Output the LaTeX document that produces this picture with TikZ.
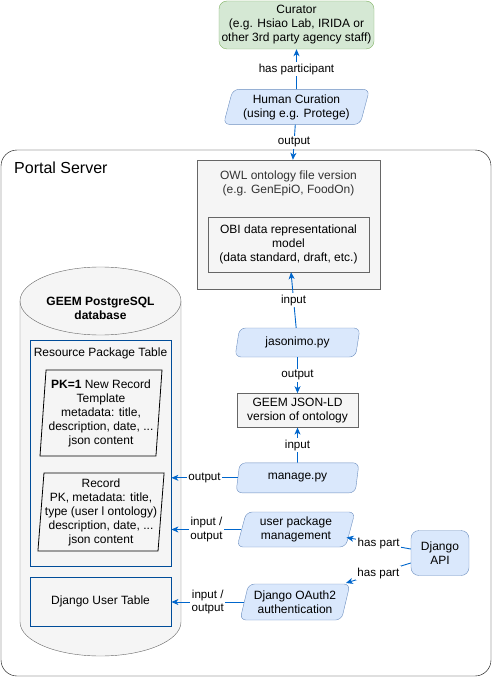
\documentclass[tikz,border=0pt]{standalone}
\usepackage{fontspec}
\setmainfont{Liberation Sans}
\usetikzlibrary{shapes.geometric, arrows.meta, positioning, calc}

\definecolor{curfill}{HTML}{D5E8D4}
\definecolor{curline}{HTML}{82B366}
\definecolor{procfill}{HTML}{DAE8FC}
\definecolor{procline}{HTML}{6C8EBF}
\definecolor{greyfill}{HTML}{F5F5F5}
\definecolor{greyline}{HTML}{666666}
\definecolor{tableline}{HTML}{004C99}
\definecolor{linkblue}{HTML}{0066CC}

\begin{document}
\begin{tikzpicture}[
        x=1pt, y=-1pt,
        every node/.style={font=\fontsize{12}{14}\selectfont, align=center, inner sep=1pt},
        actor/.style={rectangle, draw=curline, fill=curfill, rounded corners=8pt, minimum width=155pt, minimum height=48pt},
        proc/.style={trapezium, trapezium left angle=71, trapezium right angle=109, trapezium stretches body=true, draw=procline, fill=procfill, rounded corners=6pt},
        greybox/.style={rectangle, draw=greyline, fill=greyfill},
        tablebox/.style={rectangle, draw=tableline, thick},
        rec/.style={trapezium, trapezium left angle=85, trapezium right angle=95, trapezium stretches body=true, draw=black, line width=0.8pt, fill=greyfill},
        flow/.style={-{Stealth[length=7pt, width=6pt, inset=2pt]}, linkblue, line width=0.9pt},
        lbl/.style={font=\fontsize{11.6}{13.5}\selectfont, fill=white, text=black, inner sep=1.5pt}
    ]
        \useasboundingbox (0,0) rectangle (492,679);

        % Portal server frame
        \draw[rounded corners=16pt] (1,150) rectangle (491,676);
        \node[font=\fontsize{16}{18}\selectfont, anchor=west] (portal) at (13,168) {Portal Server};

        % Curation chain
        \node[actor] (curator) at (296.5,25) {Curator\\(e.g. Hsiao Lab, IRIDA or\\other 3rd party agency staff)};
        \node[proc, minimum width=146pt, minimum height=35pt, below=40pt of curator] (human) {Human Curation\\(using e.g. Protege)};

        % Ontology versions
        \node[greybox, minimum width=183pt, minimum height=129pt] (owl) at (288.5,224.5) {};
        \node[below=10pt of owl.north, text=black!80] (owltxt) {OWL ontology file version\\(e.g. GenEpiO, FoodOn)};
        \node[greybox, minimum width=161pt, minimum height=55pt] (obi) at (288.5,244.5) {OBI data representational\\model\\(data standard, draft, etc.)};

        \node[proc, minimum width=125pt, minimum height=29pt] (jasonimo) at (297.5,342.5) {jasonimo.py};
        \node[greybox, minimum width=121pt, minimum height=34pt, below=36pt of jasonimo] (jsonld) {GEEM JSON-LD\\version of ontology};
        \node[proc, minimum width=123pt, minimum height=30pt, below=35pt of jsonld] (manage) {manage.py};
        \node[proc, minimum width=118pt, minimum height=35pt] (userpkg) at (296,529.5) {user package\\management};
        \node[proc, minimum width=110pt, minimum height=36pt] (oauth) at (295,602) {Django OAuth2\\authentication};
        \node[rectangle, draw=procline, fill=procfill, rounded corners=8pt, minimum width=58pt, minimum height=45pt] (djapi) at (440,553) {Django\\API};

        % Database cylinder
        \draw[greyline, fill=greyfill] (20,301) -- (20,622) arc[start angle=180, end angle=360, x radius=80.5, y radius=-34] -- (181,301) arc[start angle=0, end angle=180, x radius=80.5, y radius=-34] -- cycle;
        \draw[greyline] (20,301) arc[start angle=180, end angle=360, x radius=80.5, y radius=-34];
        \node[font=\fontsize{12}{14}\selectfont\bfseries] (dbname) at (100.5,308) {GEEM PostgreSQL\\database};

        \node[tablebox, minimum width=141pt, minimum height=226pt] (restable) at (100.5,453) {};
        \node[below=7pt of restable.north] (restxt) {Resource Package Table};
        \node[rec, minimum width=122pt, minimum height=86pt] (template) at (101,413) {\textbf{PK=1} New Record\\Template\\metadata: title,\\description, date, ...\\json content};
        \node[rec, minimum width=120pt, minimum height=78pt] (record) at (101,512) {Record\\PK, metadata: title,\\type (user l ontology)\\description, date, ...\\json content};
        \node[tablebox, minimum width=141pt, minimum height=49pt] (usertable) at (100.5,601.5) {Django User Table};

        % Arrows
        \draw[flow] (human) -- node[lbl] {has participant} (curator);
        \draw[flow] (human) -- node[lbl, pos=0.5] {output} (owl);
        \draw[flow] (jasonimo) -- node[lbl] {input} (obi);
        \draw[flow] (jasonimo) -- node[lbl] {output} (jsonld);
        \draw[flow] (manage) -- node[lbl] {input} (jsonld);
        \draw[flow] (manage.west) -- node[lbl] {output} (restable.east |- manage.west);
        \draw[flow] (userpkg.west) -- node[lbl] {input /\\output} (restable.east |- userpkg.west);
        \draw[flow] (oauth.west) -- node[lbl] {input /\\output} (usertable.east |- oauth.west);
        \draw[flow] ($(djapi.west)+(0,-4)$) -- node[lbl, pos=0.5] {has part} ($(userpkg.east)+(-4,8)$);
        \draw[flow] ($(djapi.west)+(0,10)$) -- node[lbl, pos=0.5] {has part} ($(oauth.east)+(0,-19)$);

    \end{tikzpicture}
\end{document}
